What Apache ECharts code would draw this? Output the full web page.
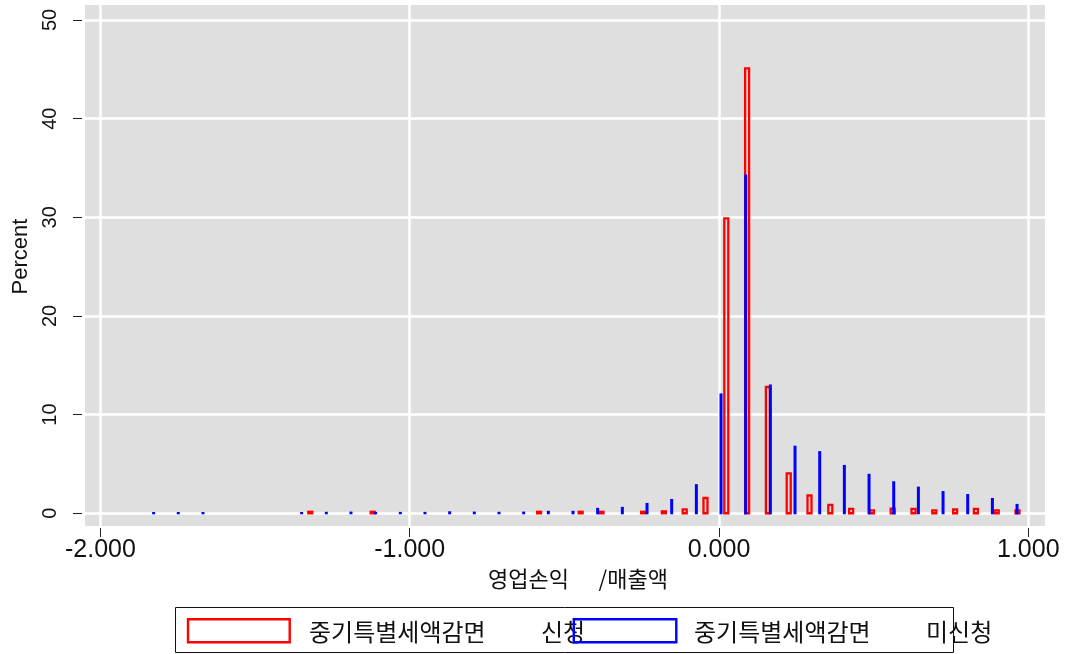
<!DOCTYPE html>
<html>
<head>
<meta charset="utf-8">
<script src="https://cdn.jsdelivr.net/npm/echarts@6/dist/echarts.min.js"></script>
<style>
  html, body { margin: 0; padding: 0; background: #ffffff; }
  #chart { width: 1071px; height: 654px; }
</style>
</head>
<body>
<div id="chart"></div>
<script>
// Histogram of operating income / sales, firms that applied for the SME special tax reduction
const applicantBins = [-1.3214, -1.1197, -0.5817, -0.4472, -0.3799, -0.2454, -0.1782, -0.1109, -0.0437,
  0.0236, 0.0909, 0.1581, 0.2254, 0.2926, 0.3599, 0.4271, 0.4944, 0.5616, 0.6289, 0.6961,
  0.7634, 0.8306, 0.8979, 0.9651];
const applicantPct = [0.15, 0.15, 0.15, 0.15, 0.15, 0.15, 0.2, 0.4, 1.55,
  29.9, 45.1, 12.8, 4.05, 1.8, 0.85, 0.45, 0.3, 0.47, 0.45, 0.3,
  0.38, 0.45, 0.3, 0.3];

// Same measure for firms that did not apply
const nonApplicantBins = [-1.8279, -1.7482, -1.6684, -1.3494, -1.2696, -1.1899, -1.1101, -1.0303,
  -0.9506, -0.8708, -0.7911, -0.7113, -0.6315, -0.5518, -0.4720, -0.3923, -0.3125, -0.2327,
  -0.1530, -0.0732, 0.0065, 0.0863, 0.1661, 0.2458, 0.3256, 0.4053, 0.4851, 0.5649, 0.6446,
  0.7244, 0.8041, 0.8839, 0.9636];
const nonApplicantPct = [0.03, 0.03, 0.03, 0.03, 0.05, 0.07, 0.04, 0.04,
  0.04, 0.1, 0.07, 0.05, 0.07, 0.15, 0.15, 0.45, 0.55, 0.95,
  1.35, 2.85, 12.05, 34.25, 12.95, 6.75, 6.2, 4.8, 3.9, 3.15, 2.6,
  2.15, 1.85, 1.45, 0.85];

const xTicks = [-2, -1, 0, 1];
const yTicks = [0, 10, 20, 30, 40, 50];

const xTitle = '영업손익      /매출액';
const yTitle = 'Percent';
const legendName = '중기특별세액감면';
const legendStatus = ['신청', '미신청'];

const RED = '#FF0000';
const BLUE = '#0000FF';
const INK = '#111111';
const KR_FONT = '"Noto Sans CJK KR", "Noto Sans", sans-serif';
const NUM_FONT = '"Liberation Sans", Arial, sans-serif';

function pairs(xs, ys) {
  return xs.map((x, i) => [x, ys[i]]);
}

// Draw a histogram bar from the axis baseline to the value, a fixed number of pixels wide
function barRenderer(pxWidth, style) {
  return function (params, api) {
    const x = api.value(0);
    const y = api.value(1);
    const base = api.coord([x, 0]);
    const top = api.coord([x, y]);
    return {
      type: 'rect',
      shape: { x: base[0] - pxWidth / 2, y: top[1], width: pxWidth, height: base[1] - top[1] },
      style: style
    };
  };
}

const chart = echarts.init(document.getElementById('chart'), null, { renderer: 'canvas' });

const legendText = (text, x) => ({
  type: 'text', z: 11, x: x, y: 632,
  style: {
    text: text, font: '24px ' + KR_FONT, fill: INK,
    align: 'left', verticalAlign: 'middle', textAlign: 'left', textVerticalAlign: 'middle'
  }
});

chart.setOption({
  animation: false,
  backgroundColor: '#ffffff',
  grid: {
    left: 85, right: 26, top: 5, bottom: 128,
    show: true, backgroundColor: '#DFDFDF', borderWidth: 0
  },
  xAxis: {
    type: 'value',
    min: -2.0498, max: 1.054,
    offset: 2,
    axisLine: { show: false, onZero: false },
    axisTick: { show: true, length: 9, customValues: xTicks, lineStyle: { color: '#222', width: 1 } },
    axisLabel: {
      customValues: xTicks,
      formatter: v => v.toFixed(3),
      margin: 10,
      fontFamily: NUM_FONT, fontSize: 25, color: INK
    },
    splitLine: { show: true, lineStyle: { color: '#ffffff', width: 2.5 } },
    name: xTitle,
    nameLocation: 'middle',
    nameGap: 40,
    nameTextStyle: { fontFamily: KR_FONT, fontSize: 22, color: INK, padding: [0, 0, 0, 26] }
  },
  yAxis: {
    type: 'value',
    min: -1.29, max: 51.52,
    offset: 3,
    axisLine: { show: false, onZero: false },
    axisTick: { show: true, length: 9, customValues: yTicks, lineStyle: { color: '#222', width: 1 } },
    axisLabel: {
      customValues: yTicks,
      rotate: 90,
      margin: 22,
      fontFamily: NUM_FONT, fontSize: 20, color: INK
    },
    splitLine: { show: true, lineStyle: { color: '#ffffff', width: 2.5 } },
    name: yTitle,
    nameLocation: 'middle',
    nameRotate: 90,
    nameGap: 46,
    nameTextStyle: { fontFamily: NUM_FONT, fontSize: 22, color: INK, padding: [0, 0, 0, 18] }
  },
  series: [
    {
      name: legendName + ' ' + legendStatus[0],
      type: 'custom',
      clip: true,
      encode: { x: 0, y: 1 },
      data: pairs(applicantBins, applicantPct),
      renderItem: barRenderer(4, { fill: 'rgba(0,0,0,0)', stroke: RED, lineWidth: 2.3 }),
      z: 2
    },
    {
      name: legendName + ' ' + legendStatus[1],
      type: 'custom',
      clip: true,
      encode: { x: 0, y: 1 },
      data: pairs(nonApplicantBins, nonApplicantPct),
      renderItem: barRenderer(1, { fill: BLUE, stroke: BLUE, lineWidth: 2 }),
      z: 3
    }
  ],
  graphic: [
    {
      type: 'rect', z: 10,
      shape: { x: 175.5, y: 607.5, width: 778, height: 45 },
      style: { fill: '#ffffff', stroke: '#111111', lineWidth: 1 }
    },
    {
      type: 'rect', z: 11,
      shape: { x: 188, y: 619.3, width: 101.7, height: 23 },
      style: { fill: 'rgba(0,0,0,0)', stroke: RED, lineWidth: 2.4 }
    },
    legendText(legendName, 309),
    legendText(legendStatus[0], 541),
    {
      type: 'rect', z: 12,
      shape: { x: 573.8, y: 619.3, width: 102.5, height: 23 },
      style: { fill: 'rgba(0,0,0,0)', stroke: BLUE, lineWidth: 2.4 }
    },
    legendText(legendName, 694),
    legendText(legendStatus[1], 926)
  ]
});
</script>
</body>
</html>
